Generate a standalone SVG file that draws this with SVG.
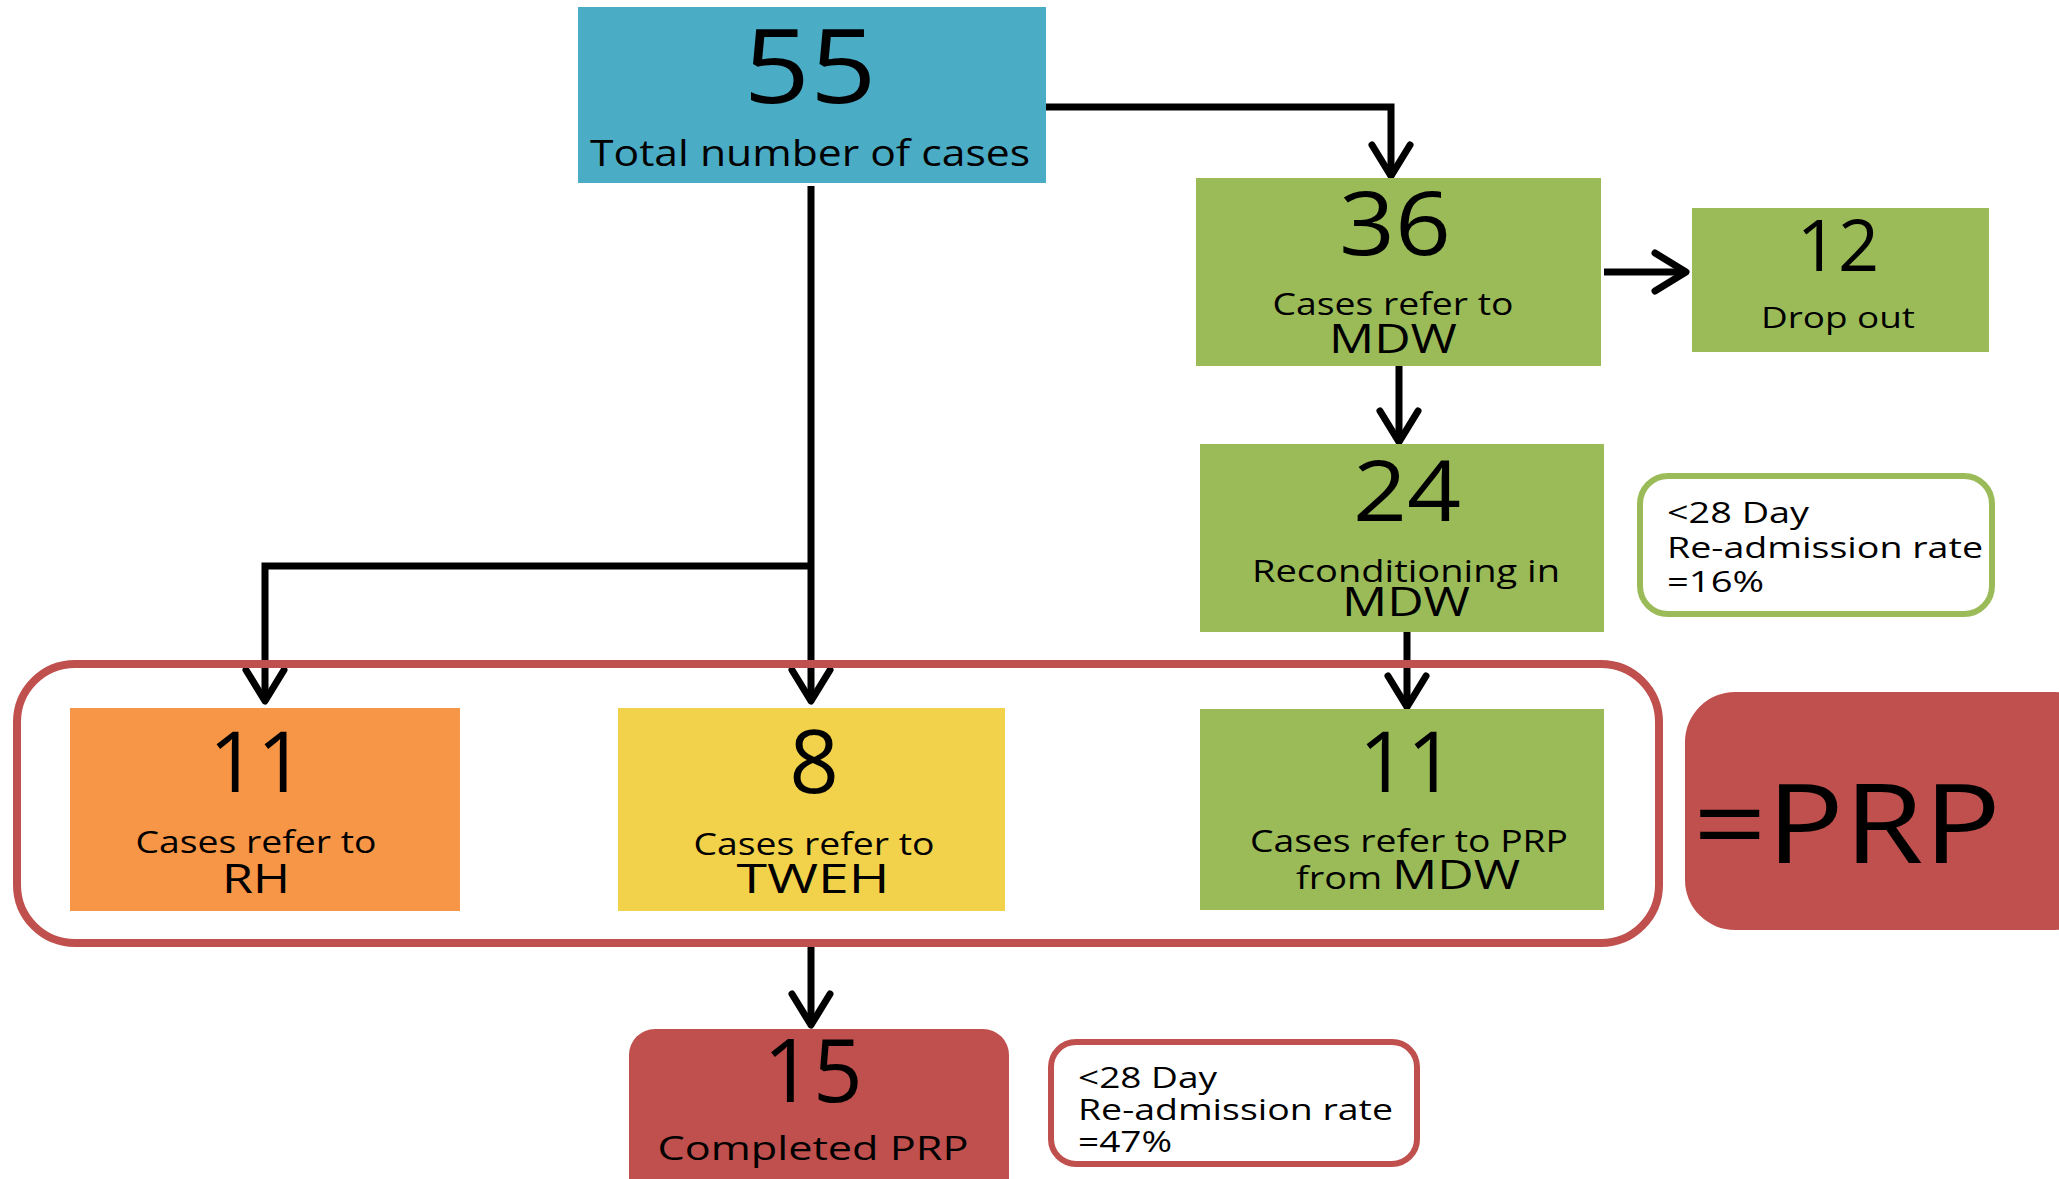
<svg xmlns="http://www.w3.org/2000/svg" width="2059" height="1179" viewBox="0 0 2059 1179">
<defs>
<style>
text{font-family:"Open Sans","Noto Sans","Liberation Sans",sans-serif;fill:#000}
.num{text-anchor:middle}
.lbl{text-anchor:middle;font-size:31px}
.big{font-size:41px}
.note{font-size:30px}
.conn{fill:none;stroke:#000;stroke-width:7}
</style>
<marker id="arr" markerUnits="userSpaceOnUse" viewBox="-40 -26 46 52" refX="0" refY="0" markerWidth="46" markerHeight="52" orient="auto" overflow="visible">
<path d="M-31,-19 L0,0 L-31,19" fill="none" stroke="#000" stroke-width="7" stroke-linecap="round" stroke-linejoin="round"/>
</marker>
</defs>
<rect width="2059" height="1179" fill="#fff"/>
<g id="connectors">
<path class="conn" d="M1046,107 H1391 V176" marker-end="url(#arr)"/>
<path class="conn" d="M811,186 V701" marker-end="url(#arr)"/>
<path class="conn" d="M811,566 H265 V701" marker-end="url(#arr)"/>
<path class="conn" d="M1399,366 V442" marker-end="url(#arr)"/>
<path class="conn" d="M1604,272 H1686" marker-end="url(#arr)"/>
<path class="conn" d="M1407,632 V707" marker-end="url(#arr)"/>
<path class="conn" d="M811,947 V1025" marker-end="url(#arr)"/>
</g>
<g id="prp-group">
<rect x="17" y="664" width="1642" height="279" rx="58" fill="none" stroke="#C0504D" stroke-width="8"/>
</g>
<g id="total">
<rect x="578" y="7" width="468" height="176" fill="#4BACC6"/>
<text class="num" x="810" y="103" font-size="102" textLength="133" lengthAdjust="spacingAndGlyphs">55</text>
<text class="lbl" x="810" y="166" font-size="36" style="font-size:36px" textLength="440" lengthAdjust="spacingAndGlyphs">Total number of cases</text>
</g>
<g id="mdw-refer">
<rect x="1196" y="178" width="405" height="188" fill="#9BBB59"/>
<text class="num" x="1395" y="255" font-size="87" textLength="112" lengthAdjust="spacingAndGlyphs">36</text>
<text class="lbl" x="1393" y="315" textLength="241" lengthAdjust="spacingAndGlyphs">Cases refer to</text>
<text class="lbl big" x="1393" y="353" textLength="128" lengthAdjust="spacingAndGlyphs">MDW</text>
</g>
<g id="dropout">
<rect x="1692" y="208" width="297" height="144" fill="#9BBB59"/>
<text class="num" x="1838" y="271" font-size="72">12</text>
<text class="lbl" x="1838" y="328" style="font-size:30px" textLength="154" lengthAdjust="spacingAndGlyphs">Drop out</text>
</g>
<g id="recond">
<rect x="1200" y="444" width="404" height="188" fill="#9BBB59"/>
<text class="num" x="1407" y="521" font-size="85" textLength="108" lengthAdjust="spacingAndGlyphs">24</text>
<text class="lbl" x="1406" y="582" textLength="308" lengthAdjust="spacingAndGlyphs">Reconditioning in</text>
<text class="lbl big" x="1406" y="616" textLength="128" lengthAdjust="spacingAndGlyphs">MDW</text>
</g>
<g id="note-16">
<rect x="1640" y="476" width="352" height="138" rx="28" fill="#fff" stroke="#9BBB59" stroke-width="6"/>
<text class="note" x="1667" y="523" textLength="142" lengthAdjust="spacingAndGlyphs">&lt;28 Day</text>
<text class="note" x="1667" y="558" textLength="316" lengthAdjust="spacingAndGlyphs">Re-admission rate</text>
<text class="note" x="1667" y="592" textLength="97" lengthAdjust="spacingAndGlyphs">=16%</text>
</g>
<g id="rh">
<rect x="70" y="708" width="390" height="203" fill="#F79646"/>
<text class="num" x="257" y="792" font-size="84">11</text>
<text class="lbl" x="256" y="853" textLength="241" lengthAdjust="spacingAndGlyphs">Cases refer to</text>
<text class="lbl big" x="256" y="893" textLength="68" lengthAdjust="spacingAndGlyphs">RH</text>
</g>
<g id="tweh">
<rect x="618" y="708" width="387" height="203" fill="#F2D24B"/>
<text class="num" x="814" y="793" font-size="87">8</text>
<text class="lbl" x="814" y="855" textLength="241" lengthAdjust="spacingAndGlyphs">Cases refer to</text>
<text class="lbl big" x="813" y="893" textLength="153" lengthAdjust="spacingAndGlyphs">TWEH</text>
</g>
<g id="prp-mdw">
<rect x="1200" y="709" width="404" height="201" fill="#9BBB59"/>
<text class="num" x="1407" y="792" font-size="84">11</text>
<text class="lbl" x="1409" y="852" textLength="318" lengthAdjust="spacingAndGlyphs">Cases refer to PRP</text>
<text class="lbl" x="1408" y="889" textLength="224" lengthAdjust="spacingAndGlyphs">from <tspan style="font-size:41px">MDW</tspan></text>
</g>
<g id="eq-prp">
<rect x="1685" y="692" width="420" height="238" rx="50" fill="#C0504D"/>
<text x="1693" y="863" font-size="109" textLength="308" lengthAdjust="spacingAndGlyphs">=PRP</text>
</g>
<g id="completed">
<rect x="629" y="1029" width="380" height="200" rx="26" fill="#C0504D"/>
<text class="num" x="813" y="1102" font-size="87">15</text>
<text class="lbl" x="813" y="1160" style="font-size:32px" textLength="311" lengthAdjust="spacingAndGlyphs">Completed PRP</text>
</g>
<g id="note-47">
<rect x="1051" y="1042" width="366" height="122" rx="25" fill="#fff" stroke="#C0504D" stroke-width="6"/>
<text class="note" x="1078" y="1088" textLength="139" lengthAdjust="spacingAndGlyphs">&lt;28 Day</text>
<text class="note" x="1078" y="1120" textLength="315" lengthAdjust="spacingAndGlyphs">Re-admission rate</text>
<text class="note" x="1078" y="1152" textLength="94" lengthAdjust="spacingAndGlyphs">=47%</text>
</g>
</svg>
